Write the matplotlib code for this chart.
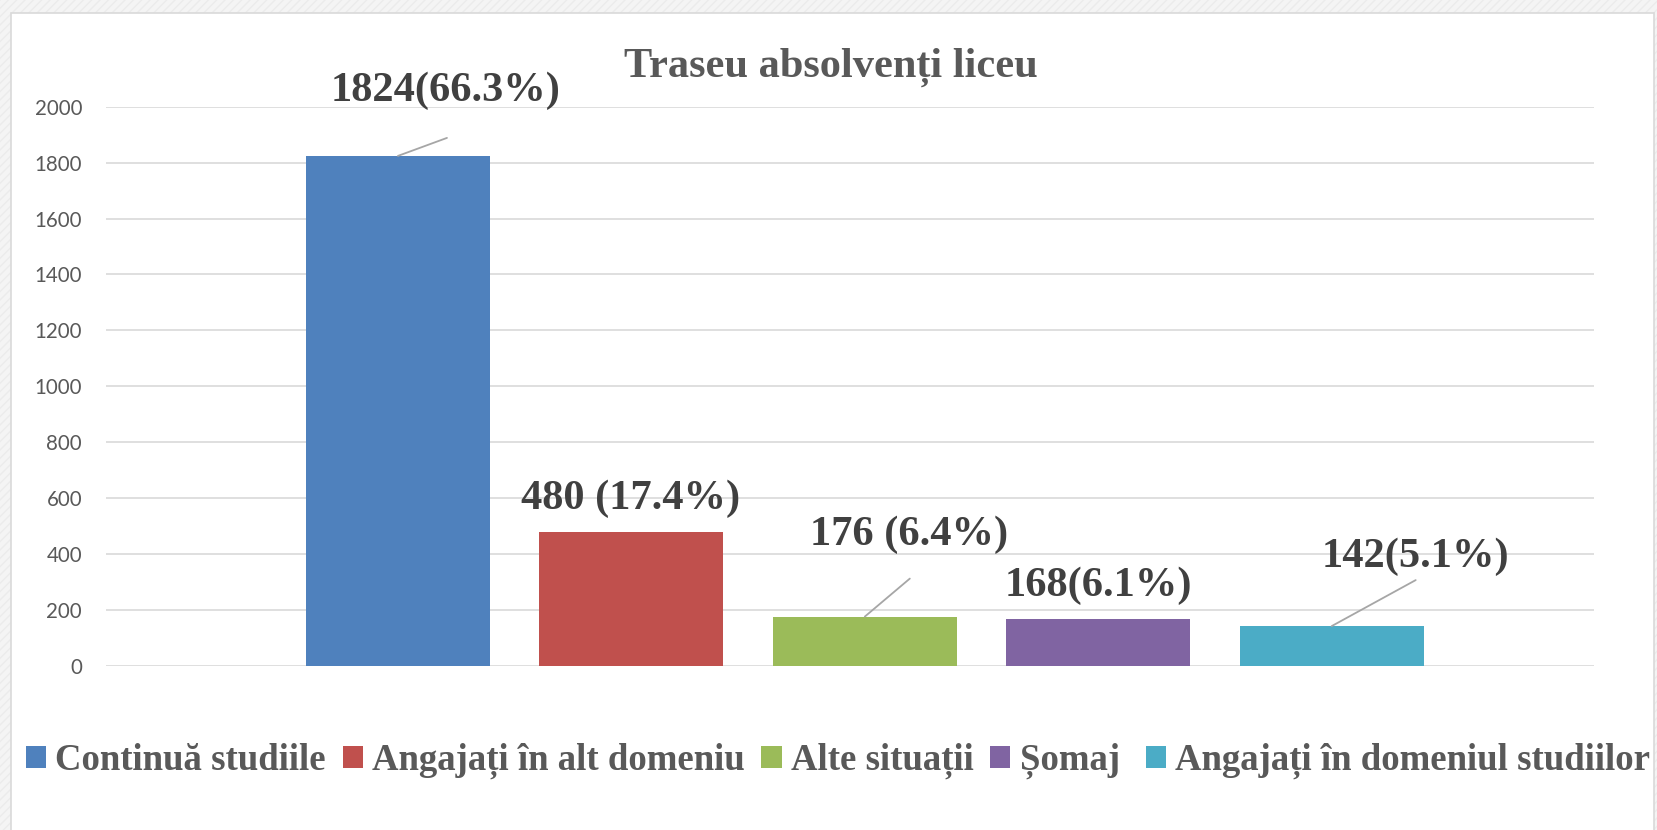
import matplotlib
matplotlib.use("Agg")
import matplotlib.pyplot as plt
from matplotlib.patches import Rectangle
import numpy as np

# ---- data ----
categories = ["Continuă studiile", "Angajați în alt domeniu", "Alte situații",
              "Șomaj ", "Angajați în domeniul studiilor"]
values = [1824, 480, 176, 168, 142]
value_labels = ["1824(66.3%)", "480 (17.4%)", "176 (6.4%)", "168(6.1%)", "142(5.1%)"]
title = "Traseu absolvenți liceu"
yticks = [0, 200, 400, 600, 800, 1000, 1200, 1400, 1600, 1800, 2000]

colors = ["#4F81BD", "#C0504D", "#9BBB59", "#8064A2", "#4BACC6"]
# label offsets (pixels) relative to bar top centre, and leader-line ends
label_offsets = [(48, 65), (-1, 33), (44, 82), (0, 33), (84, 69)]
leader_ends = [(49, 18), None, (45, 38), None, (84, 46)]

W, H = 1657, 830
fig = plt.figure(figsize=(W / 100, H / 100), dpi=100)
fig.patch.set_facecolor("#f4f4f4")
# hatched light background, white chart area
bg = Rectangle((0, 0), 1, 1, transform=fig.transFigure, facecolor="#f4f4f4",
               edgecolor="#ebebeb", hatch="////", linewidth=0, zorder=-10)
fig.patches.append(bg)
panel = Rectangle((11 / W, -0.01), (1654 - 11) / W, 1 - 13 / H + 0.01,
                  transform=fig.transFigure, facecolor="white",
                  edgecolor="#d9d9d9", linewidth=1.2, zorder=-9)
fig.patches.append(panel)

ax = fig.add_axes([105.7 / W, 1 - 665.8 / H, (1593.6 - 105.7) / W, (665.8 - 106.7) / H])
ax.set_facecolor("none")

x = np.arange(len(values))
bars = []
for i in range(len(values)):
    b = ax.bar(x[i], values[i], width=0.788, color=colors[i], label=categories[i], zorder=3)
    bars.append(b)

ax.set_xlim(-1.252, 5.122)
ax.set_ylim(0, 2000)
ax.set_yticks(yticks)
ax.set_yticklabels([str(t) for t in yticks], fontfamily="Lato", fontsize=14.8, color="#595959")
ax.set_xticks([])
ax.tick_params(axis="y", length=0, pad=17)
for s in ax.spines.values():
    s.set_visible(False)
ax.grid(axis="y", color="#d9d9d9", linewidth=1.2, zorder=0)
ax.set_axisbelow(True)

serif = ["Liberation Serif", "DejaVu Serif"]
for i in range(len(values)):
    dx, dy = label_offsets[i]
    ax.annotate(value_labels[i], xy=(x[i], values[i]), xytext=(dx, dy),
                textcoords="offset pixels", ha="center", va="center",
                fontfamily=serif, fontweight="bold", fontsize=30.5, color="#404040", zorder=5)
    if leader_ends[i] is not None:
        ex, ey = leader_ends[i]
        ax.annotate("", xy=(x[i], values[i]), xytext=(ex, ey), textcoords="offset pixels",
                    arrowprops=dict(arrowstyle="-", color="#a6a6a6", lw=1.3,
                                    shrinkA=0, shrinkB=0), zorder=4)

fig.text(831 / W, 1 - 67 / H, title, ha="center", va="center", fontfamily=serif,
         fontweight="bold", fontsize=30.5, color="#595959")

leg = fig.legend(handles=[b.patches[0] for b in bars], labels=categories, loc="center",
                 bbox_to_anchor=(838 / W, 1 - 761 / H), ncol=5, frameon=False,
                 prop=dict(family=serif, weight="bold", size=26.5),
                 handlelength=0.55, handleheight=0.55, handletextpad=0.25,
                 columnspacing=0.45, borderaxespad=0, borderpad=0)
for t in leg.get_texts():
    t.set_color("#595959")

fig.savefig("out.png", dpi=100, facecolor=fig.get_facecolor())
